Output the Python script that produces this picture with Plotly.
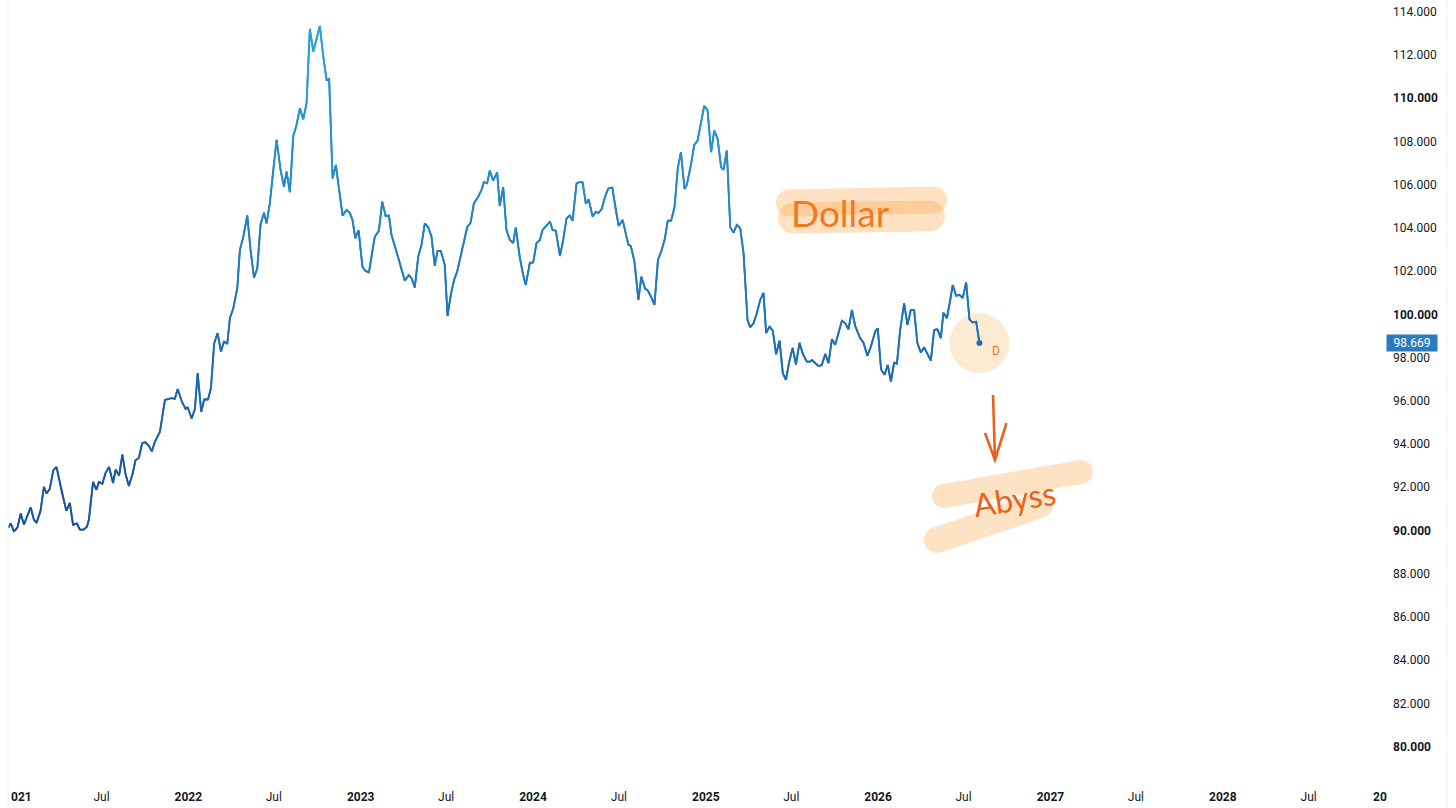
import math
import pandas as pd
import plotly.graph_objects as go
from plotly.colors import sample_colorscale

# weekly closes, positions as decimal years
years = [2020.955, 2020.969, 2020.988, 2021.008, 2021.027, 2021.046, 2021.085, 2021.104, 2021.119, 2021.142,
         2021.162, 2021.177, 2021.196, 2021.216, 2021.235, 2021.264, 2021.292, 2021.312, 2021.331, 2021.354,
         2021.370, 2021.393, 2021.412, 2021.423, 2021.447, 2021.466, 2021.481, 2021.501, 2021.520, 2021.540,
         2021.563, 2021.578, 2021.598, 2021.617, 2021.636, 2021.655, 2021.678, 2021.693, 2021.713, 2021.732,
         2021.751, 2021.770, 2021.788, 2021.807, 2021.835, 2021.864, 2021.903, 2021.922, 2021.938, 2021.961,
         2021.984, 2021.996, 2022.019, 2022.038, 2022.054, 2022.075, 2022.092, 2022.114, 2022.131, 2022.150,
         2022.170, 2022.189, 2022.207, 2022.226, 2022.241, 2022.261, 2022.284, 2022.299, 2022.319, 2022.342,
         2022.361, 2022.381, 2022.400, 2022.419, 2022.439, 2022.454, 2022.473, 2022.493, 2022.512, 2022.535,
         2022.555, 2022.570, 2022.589, 2022.609, 2022.628, 2022.647, 2022.667, 2022.686, 2022.705, 2022.725,
         2022.763, 2022.783, 2022.802, 2022.817, 2022.837, 2022.856, 2022.875, 2022.895, 2022.918, 2022.937,
         2022.953, 2022.969, 2022.988, 2023.010, 2023.027, 2023.048, 2023.082, 2023.106, 2023.125, 2023.145,
         2023.164, 2023.179, 2023.208, 2023.232, 2023.256, 2023.280, 2023.295, 2023.314, 2023.334, 2023.353,
         2023.372, 2023.392, 2023.411, 2023.430, 2023.446, 2023.465, 2023.488, 2023.504, 2023.523, 2023.542,
         2023.560, 2023.595, 2023.618, 2023.638, 2023.657, 2023.682, 2023.701, 2023.715, 2023.734, 2023.749,
         2023.769, 2023.792, 2023.807, 2023.827, 2023.846, 2023.866, 2023.885, 2023.900, 2023.924, 2023.943,
         2023.958, 2023.982, 2024.001, 2024.020, 2024.040, 2024.055, 2024.078, 2024.098, 2024.113, 2024.132,
         2024.156, 2024.175, 2024.194, 2024.213, 2024.229, 2024.252, 2024.272, 2024.287, 2024.306, 2024.322,
         2024.345, 2024.364, 2024.378, 2024.397, 2024.417, 2024.436, 2024.459, 2024.480, 2024.496, 2024.519,
         2024.552, 2024.566, 2024.587, 2024.610, 2024.627, 2024.649, 2024.664, 2024.687, 2024.703, 2024.723,
         2024.743, 2024.762, 2024.780, 2024.799, 2024.819, 2024.838, 2024.856, 2024.877, 2024.890, 2024.914,
         2024.933, 2024.952, 2024.972, 2024.991, 2025.010, 2025.031, 2025.049, 2025.068, 2025.089, 2025.103,
         2025.122, 2025.142, 2025.161, 2025.180, 2025.200, 2025.219, 2025.242, 2025.258, 2025.277, 2025.296,
         2025.316, 2025.335, 2025.350, 2025.370, 2025.389, 2025.408, 2025.428, 2025.447, 2025.465, 2025.484,
         2025.504, 2025.523, 2025.544, 2025.563, 2025.586, 2025.606, 2025.616, 2025.635, 2025.654, 2025.673,
         2025.693, 2025.712, 2025.732, 2025.751, 2025.770, 2025.790, 2025.809, 2025.828, 2025.848, 2025.867,
         2025.896, 2025.915, 2025.938, 2025.958, 2025.983, 2025.998, 2026.017, 2026.037, 2026.056, 2026.074,
         2026.093, 2026.109, 2026.128, 2026.151, 2026.170, 2026.190, 2026.209, 2026.228, 2026.248, 2026.267,
         2026.286, 2026.306, 2026.325, 2026.344, 2026.364, 2026.379, 2026.399, 2026.418, 2026.433, 2026.453,
         2026.472, 2026.491, 2026.511, 2026.530, 2026.549, 2026.569, 2026.588]

dxy = [90.13, 90.33, 89.96, 90.13, 90.79, 90.28, 91.07, 90.49, 90.36, 90.91,
       92.02, 91.71, 91.93, 92.78, 92.94, 91.83, 90.91, 91.28, 90.26, 90.33,
       90.04, 90.04, 90.18, 90.51, 92.25, 91.88, 92.25, 92.16, 92.67, 92.94,
       92.20, 92.82, 92.54, 93.51, 92.59, 92.06, 92.67, 93.25, 93.36, 94.05,
       94.08, 93.93, 93.66, 94.13, 94.56, 96.04, 96.12, 96.09, 96.55, 95.99,
       95.62, 95.70, 95.18, 95.62, 97.28, 95.49, 96.07, 96.06, 96.58, 98.66,
       99.13, 98.28, 98.74, 98.63, 99.82, 100.28, 101.21, 102.98, 103.59, 104.57,
       102.98, 101.70, 102.13, 104.17, 104.70, 104.21, 105.14, 106.68, 108.07, 106.68,
       105.91, 106.60, 105.65, 108.25, 108.76, 109.53, 109.02, 109.76, 113.20, 112.15,
       113.34, 111.92, 110.84, 110.89, 106.29, 106.91, 105.75, 104.57, 104.83, 104.69,
       104.35, 103.52, 103.89, 102.21, 102.01, 101.94, 103.59, 103.87, 105.21, 104.55,
       104.57, 103.67, 102.90, 102.21, 101.56, 101.82, 101.67, 101.24, 102.67, 103.21,
       104.21, 104.03, 103.59, 102.24, 102.93, 102.93, 102.28, 99.93, 100.90, 101.59,
       101.98, 103.21, 104.03, 104.24, 105.14, 105.44, 105.75, 106.12, 106.06, 106.65,
       106.18, 106.57, 105.01, 105.88, 103.90, 103.44, 103.29, 104.01, 102.60, 101.82,
       101.36, 102.39, 102.39, 103.29, 103.44, 103.90, 104.09, 104.29, 103.90, 103.87,
       102.70, 103.44, 104.44, 104.57, 104.32, 106.06, 106.12, 106.11, 105.11, 105.32,
       104.52, 104.75, 104.68, 104.86, 105.44, 105.83, 105.86, 104.75, 104.09, 104.37,
       103.21, 103.16, 102.44, 100.67, 101.74, 101.18, 101.11, 100.75, 100.44, 102.52,
       102.93, 103.46, 104.33, 104.33, 104.95, 106.76, 107.50, 105.80, 105.99, 106.91,
       107.84, 108.02, 108.84, 109.65, 109.45, 107.50, 108.50, 108.15, 106.80, 106.68,
       107.57, 104.03, 103.78, 104.14, 103.98, 102.83, 99.74, 99.40, 99.59, 100.05,
       100.67, 100.99, 99.13, 99.43, 99.25, 98.15, 98.78, 97.28, 96.97, 97.80,
       98.45, 97.68, 98.68, 98.17, 97.81, 97.81, 97.89, 97.73, 97.61, 97.65,
       98.17, 97.74, 98.85, 98.59, 99.13, 99.71, 99.59, 99.31, 100.20, 99.46,
       98.89, 98.69, 98.08, 98.51, 99.20, 99.36, 97.46, 97.20, 97.66, 96.89,
       97.77, 97.71, 99.28, 100.51, 99.51, 100.20, 100.20, 98.66, 98.23, 98.48,
       98.17, 97.86, 99.28, 99.31, 98.90, 100.08, 99.82, 100.59, 101.36, 100.85,
       100.90, 100.75, 101.47, 99.77, 99.62, 99.66, 98.669]

assert len(years) == len(dxy), (len(years), len(dxy))

x_ticks = ["2021-07-01", "2022-01-01", "2022-07-01", "2023-01-01", "2023-07-01", "2024-01-01",
           "2024-07-01", "2025-01-01", "2025-07-01", "2026-01-01", "2026-07-01", "2027-01-01",
           "2027-07-01", "2028-01-01", "2028-07-01"]
x_labels = ["Jul", "2022", "Jul", "2023", "Jul", "2024", "Jul", "2025", "Jul", "2026", "Jul", "2027",
            "Jul", "2028", "Jul"]
y_ticks = list(range(80, 115, 2))

W, H = 1456, 808
ML, MR, MT, MB = 8, 68, 0, 28
PW, PH = W - ML - MR, H - MT - MB


def to_date(t):
    y = int(math.floor(t))
    start = pd.Timestamp(year=y, month=1, day=1)
    end = pd.Timestamp(year=y + 1, month=1, day=1)
    return start + (end - start) * (t - y)


def paper(px, py):
    # screen pixel -> paper coordinates (for the hand-drawn marks)
    return (px - ML) / PW, 1 - (py - MT) / PH


def capsule(p1, p2, r):
    (x1, y1), (x2, y2) = p1, p2
    L = math.hypot(x2 - x1, y2 - y1)
    ux, uy = (x2 - x1) / L, (y2 - y1) / L
    nx, ny = -uy, ux
    k = 0.5523 * r
    A = (x1 + nx * r, y1 + ny * r)
    B = (x2 + nx * r, y2 + ny * r)
    C = (x2 - nx * r, y2 - ny * r)
    D = (x1 - nx * r, y1 - ny * r)
    E = (x2 + ux * r, y2 + uy * r)
    F = (x1 - ux * r, y1 - uy * r)
    pts = [
        ("M", [A]), ("L", [B]),
        ("C", [(B[0] + ux * k, B[1] + uy * k), (E[0] + nx * k, E[1] + ny * k), E]),
        ("C", [(E[0] - nx * k, E[1] - ny * k), (C[0] + ux * k, C[1] + uy * k), C]),
        ("L", [D]),
        ("C", [(D[0] - ux * k, D[1] - uy * k), (F[0] - nx * k, F[1] - ny * k), F]),
        ("C", [(F[0] + nx * k, F[1] + ny * k), (A[0] - ux * k, A[1] - uy * k), A]),
    ]
    out = []
    for cmd, ps in pts:
        s = " ".join("%.5f,%.5f" % paper(*p) for p in ps)
        out.append(cmd + s)
    return " ".join(out) + " Z"


dates = [to_date(t) for t in years]

fig = go.Figure()

# line coloured by level (dark blue low, light blue high)
scale = [[0, "#1C4E9D"], [0.45, "#1F76BA"], [1, "#2AA9DD"]]
lo, hi = 90.0, 113.5
fig.add_trace(go.Scatter(x=dates, y=dxy, mode="lines", line=dict(color="#1F72B6", width=1.8),
                         hoverinfo="skip", showlegend=False))
for i in range(len(dxy) - 1):
    mid = (dxy[i] + dxy[i + 1]) / 2
    f = min(max((mid - lo) / (hi - lo), 0), 1)
    c = sample_colorscale(scale, [f])[0]
    fig.add_trace(go.Scatter(x=dates[i:i + 2], y=dxy[i:i + 2], mode="lines",
                             line=dict(color=c, width=1.8), hoverinfo="skip", showlegend=False))

shapes = []
# highlight strokes behind "Dollar"
for p1, p2, r in [((789.5, 203), (933.5, 200), 13.5), ((793.5, 218), (929.5, 216), 15.5)]:
    shapes.append(dict(type="path", xref="paper", yref="paper", path=capsule(p1, p2, r),
                       fillcolor="rgba(248,170,80,0.35)", line=dict(width=0), layer="below"))
# highlight strokes behind "Abyss"
for p1, p2, r in [((944, 496), (1081, 472), 12), ((937, 540), (1040, 505), 13)]:
    shapes.append(dict(type="path", xref="paper", yref="paper", path=capsule(p1, p2, r),
                       fillcolor="#FDE3C4", line=dict(width=0), layer="below"))
# glow round last close
shapes.append(dict(type="circle", xref="x", yref="y", xsizemode="pixel", ysizemode="pixel",
                   xanchor=dates[-1], yanchor=dxy[-1], x0=-30, x1=30, y0=-30, y1=30,
                   fillcolor="rgba(248,170,80,0.25)", line=dict(width=0), layer="below"))
# hand-drawn arrow
a0, a1, a2, a3, a4 = paper(993, 395), paper(995, 460), paper(985, 433), paper(995, 460), paper(1006.5, 423)
shapes.append(dict(type="path", xref="paper", yref="paper",
                   path="M%.5f,%.5f L%.5f,%.5f M%.5f,%.5f L%.5f,%.5f L%.5f,%.5f" % (*a0, *a1, *a2, *a3, *a4),
                   line=dict(color="#E8621C", width=2.6)))
# pane borders
for bx in (8, 1447):
    shapes.append(dict(type="line", xref="paper", yref="paper", x0=paper(bx, 0)[0], x1=paper(bx, 0)[0],
                       y0=paper(0, H)[1], y1=1, line=dict(color="#EEF0F3", width=1)))

fig.add_trace(go.Scatter(x=[dates[-1]], y=[dxy[-1]], mode="markers",
                         marker=dict(color="#1F6FB6", size=6), hoverinfo="skip", showlegend=False))

annotations = []
dx, dy = paper(840, 213)
annotations.append(dict(xref="paper", yref="paper", x=dx, y=dy, xanchor="center", yanchor="middle",
                        text="Dollar", showarrow=False,
                        font=dict(family="Lato", size=37, color="#EE7A22")))
ax_, ay_ = paper(1014, 499)
annotations.append(dict(xref="paper", yref="paper", x=ax_, y=ay_, xanchor="center", yanchor="middle",
                        text="Abyss", showarrow=False, textangle=-9,
                        font=dict(family="Lato", size=32, color="#E8621C")))
annotations.append(dict(xref="x", yref="y", x=dates[-1], y=dxy[-1], text="D", showarrow=False,
                        xanchor="center", yanchor="middle", xshift=17, yshift=-8,
                        font=dict(family="Roboto", size=12, color="#E8781E")))
annotations.append(dict(xref="paper", yref="y", x=1, y=dxy[-1], xanchor="left", yanchor="middle",
                        xshift=-2, width=48, height=14, align="center",
                        text="%.3f" % dxy[-1], showarrow=False, bgcolor="#2B7BBE", borderpad=1,
                        font=dict(family="Roboto", size=12, color="white")))
# clipped labels at the two ends of the time scale
lx, ly = paper(21, 797)
annotations.append(dict(xref="paper", yref="paper", x=lx, y=ly, xanchor="center", yanchor="middle",
                        text="<b>021</b>", showarrow=False,
                        font=dict(family="Roboto", size=12, color="#131722")))
rx, ry = paper(1380, 797)
annotations.append(dict(xref="paper", yref="paper", x=rx, y=ry, xanchor="center", yanchor="middle",
                        text="<b>20</b>", showarrow=False,
                        font=dict(family="Roboto", size=12, color="#131722")))

fig.update_layout(
    width=W, height=H,
    margin=dict(l=ML, r=MR, t=MT, b=MB),
    plot_bgcolor="white", paper_bgcolor="white",
    showlegend=False,
    shapes=shapes,
    annotations=annotations,
    font=dict(family="Roboto", size=12, color="#131722"),
)
fig.update_xaxes(
    type="date", range=["2020-12-15", "2028-12-16"],
    tickvals=x_ticks,
    ticktext=[("<b>%s</b>" % t) if t != "Jul" else t for t in x_labels],
    showgrid=False, zeroline=False, showline=False, ticks="",
    ticklabelstandoff=8,
    tickfont=dict(family="Roboto", size=12, color="#131722"),
)
fig.update_yaxes(
    side="right", range=[78.46, 114.54],
    tickvals=y_ticks,
    ticktext=[("<b>%d.000</b>" % v) if v % 10 == 0 else "%d.000" % v for v in y_ticks],
    showgrid=False, zeroline=False, showline=False, ticks="",
    ticklabelstandoff=4,
    tickfont=dict(family="Roboto", size=12, color="#131722"),
)

# the page's default body margin would push the chart 8px right and down
fig.write_html("out.html", config={"displayModeBar": False},
               post_script="document.body.style.margin='0px';")
